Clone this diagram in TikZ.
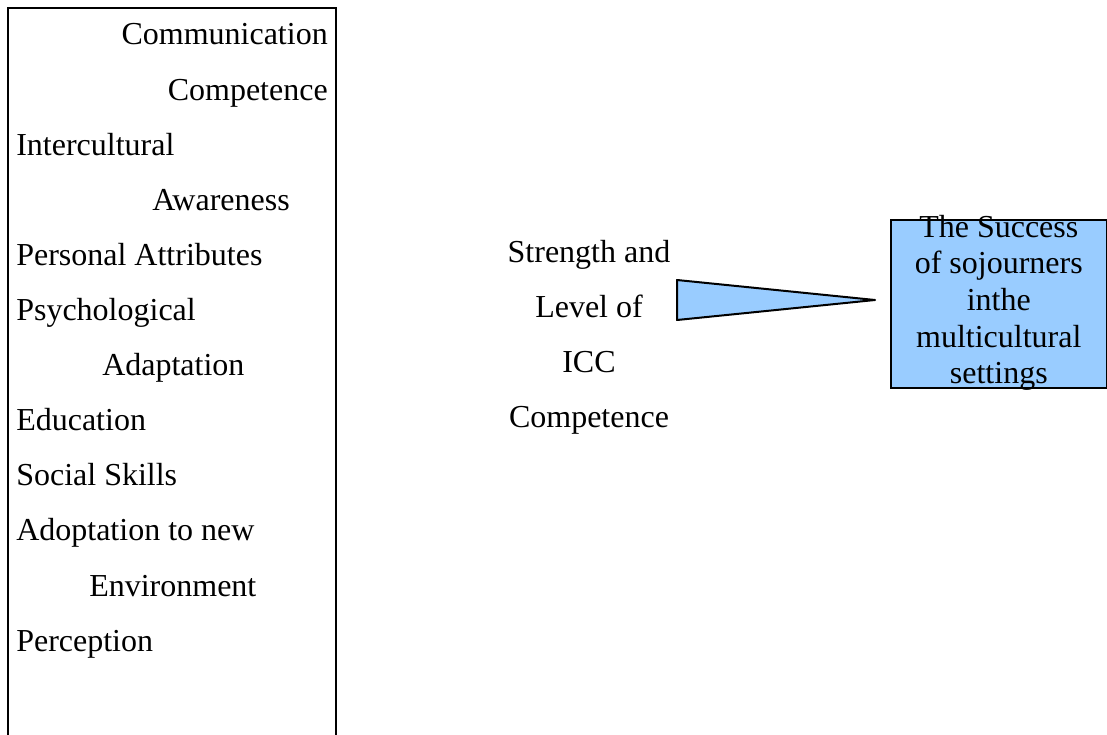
\documentclass[tikz,border=0pt]{standalone}
\usepackage{fontspec}
\setmainfont{Liberation Serif}
\usetikzlibrary{positioning}
\definecolor{boxblue}{HTML}{99CCFF}
\begin{document}
\begin{tikzpicture}[x=0.75pt,y=-0.75pt,
    item/.style={inner sep=0pt,font=\fontsize{24}{27.5}\selectfont}]
        % 固定画面大小
        \useasboundingbox (0,0) rectangle (1107,735);
        % 定义第一行基线和行距
        \def\firstrow{45}
        \def\rowgap{55.1}
        % 绘制左侧方框（下边在画面之外）
        \draw[line width=0.8pt] (8,745) -- (8,8) -- (336,8) -- (336,745);
        % 左侧各因素
        \node (comm) [item, anchor=base east] at (328,\firstrow) {Communication};
        \node (compa) [item, anchor=base east] at (328,{\firstrow+\rowgap}) {Competence};
        \node (inter) [item, anchor=base west] at (16,{\firstrow+2*\rowgap}) {Intercultural};
        \node (aware) [item, anchor=base west] at (152,{\firstrow+3*\rowgap}) {Awareness};
        \node (person) [item, anchor=base west] at (16,{\firstrow+4*\rowgap}) {Personal Attributes};
        \node (psych) [item, anchor=base west] at (16,{\firstrow+5*\rowgap}) {Psychological};
        \node (adapt) [item, anchor=base west] at (102,{\firstrow+6*\rowgap}) {Adaptation};
        \node (edu) [item, anchor=base west] at (16,{\firstrow+7*\rowgap}) {Education};
        \node (social) [item, anchor=base west] at (16,{\firstrow+8*\rowgap}) {Social Skills};
        \node (adopt) [item, anchor=base west] at (16,{\firstrow+9*\rowgap}) {Adoptation to new};
        \node (env) [item, anchor=base west] at (89,{\firstrow+10*\rowgap}) {Environment};
        \node (percep) [item, anchor=base west] at (16,{\firstrow+11*\rowgap}) {Perception};
        % 中间的文字
        \node (strength) [item, anchor=base] at (589,262) {Strength and};
        \node (level) [item, anchor=base] at (589,{262+\rowgap}) {Level of};
        \node (icc) [item, anchor=base] at (589,{262+2*\rowgap}) {ICC};
        \node (compb) [item, anchor=base] at (589,{262+3*\rowgap}) {Competence};
        % 右侧蓝色方框
        \node (success) [draw, line width=1.2pt, fill=boxblue, inner sep=0pt,
            minimum width=162pt, minimum height=126pt, anchor=north west] at (890,219) {};
        \node (successtext) [item, align=center] at ([yshift=0.75pt]success.center)
            {The Success\\of sojourners\\inthe\\multicultural\\settings};
        % 绘制三角形箭头
        \coordinate (tailtop) at (677,280);
        \coordinate (tailbot) at (677,320);
        \coordinate (tip) at (875,300);
        \draw[line width=1.5pt, fill=boxblue, line join=round] (tailtop) -- (tip) -- (tailbot) -- cycle;
\end{tikzpicture}
\end{document}
